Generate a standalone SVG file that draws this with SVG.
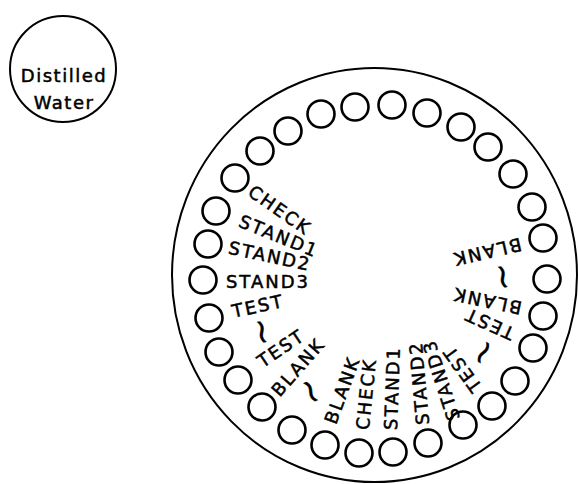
<svg xmlns="http://www.w3.org/2000/svg" width="578" height="484" viewBox="0 0 578 484">
<style>
.o{fill:none;stroke:#000;stroke-width:2}
.w{fill:none;stroke:#000;stroke-width:2.6}
.t{font-family:"DejaVu Sans","Liberation Sans",sans-serif;font-size:18px;letter-spacing:2px;fill:#000;stroke:#000;stroke-width:0.5;text-anchor:middle}
.d{letter-spacing:1.5px}
.t.s{font-size:34px;letter-spacing:0;stroke-width:0.3}
</style>
<rect width="578" height="484" fill="#fff"/>
<g id="distilled-water">
<circle class="o" cx="63" cy="69" r="53"/>
<text class="t d" x="64" y="82">Distilled</text>
<text class="t d" x="64" y="109">Water</text>
</g>
<g id="connectors"></g>
<g id="tray">
<ellipse class="o" cx="374.5" cy="275" rx="202.5" ry="207"/>
</g>
<g id="wells">
<circle class="w" cx="203" cy="280" r="13.5"/>
<circle class="w" cx="208" cy="244" r="13.5"/>
<circle class="w" cx="216" cy="211" r="13.5"/>
<circle class="w" cx="235" cy="178" r="13.5"/>
<circle class="w" cx="260" cy="151" r="13.5"/>
<circle class="w" cx="288" cy="131" r="13.5"/>
<circle class="w" cx="321" cy="114" r="13.5"/>
<circle class="w" cx="355" cy="107" r="13.5"/>
<circle class="w" cx="392" cy="105" r="13.5"/>
<circle class="w" cx="427" cy="113" r="13.5"/>
<circle class="w" cx="461" cy="127" r="13.5"/>
<circle class="w" cx="488" cy="147" r="13.5"/>
<circle class="w" cx="513" cy="174" r="13.5"/>
<circle class="w" cx="532" cy="207" r="13.5"/>
<circle class="w" cx="543" cy="238" r="13.5"/>
<circle class="w" cx="547" cy="279" r="13.5"/>
<circle class="w" cx="543" cy="316" r="13.5"/>
<circle class="w" cx="533" cy="348" r="13.5"/>
<circle class="w" cx="515" cy="381" r="13.5"/>
<circle class="w" cx="492" cy="406" r="13.5"/>
<circle class="w" cx="463" cy="425" r="13.5"/>
<circle class="w" cx="428" cy="443" r="13.5"/>
<circle class="w" cx="393" cy="452" r="13.5"/>
<circle class="w" cx="359" cy="453" r="13.5"/>
<circle class="w" cx="325" cy="445" r="13.5"/>
<circle class="w" cx="292" cy="430" r="13.5"/>
<circle class="w" cx="262" cy="407" r="13.5"/>
<circle class="w" cx="238" cy="380" r="13.5"/>
<circle class="w" cx="219" cy="352" r="13.5"/>
<circle class="w" cx="209" cy="318" r="13.5"/>
</g>
<g id="labels">
<text class="t" transform="translate(280,210) rotate(35)" y="6.5">CHECK</text>
<text class="t" transform="translate(279,236) rotate(22)" y="6.5">STAND1</text>
<text class="t" transform="translate(270,256) rotate(12)" y="6.5">STAND2</text>
<text class="t" transform="translate(268,281) rotate(0)" y="6.5">STAND3</text>
<text class="t" transform="translate(258,306) rotate(-12)" y="6.5">TEST</text>
<text class="t s" transform="translate(261,332) rotate(80)" y="10">~</text>
<text class="t" transform="translate(281,348) rotate(-34)" y="6.5">TEST</text>
<text class="t" transform="translate(298,367) rotate(-49)" y="6.5">BLANK</text>
<text class="t s" transform="translate(310,392) rotate(65)" y="10">~</text>
<text class="t" transform="translate(342,390) rotate(-70)" y="6.5">BLANK</text>
<text class="t" transform="translate(366,394) rotate(-84)" y="6.5">CHECK</text>
<text class="t" transform="translate(392,388) rotate(-88)" y="6.5">STAND1</text>
<text class="t" transform="translate(419,383) rotate(-95)" y="6.5">STAND2</text>
<text class="t" transform="translate(441,380) rotate(-108)" y="6.5">STAND3</text>
<text class="t" transform="translate(462,369) rotate(-126)" y="6.5">TEST</text>
<text class="t s" transform="translate(484,353) rotate(-60)" y="10">~</text>
<text class="t" transform="translate(489,324) rotate(204)" y="6.5">TEST</text>
<text class="t" transform="translate(487,301) rotate(192)" y="6.5">BLANK</text>
<text class="t s" transform="translate(502,277) rotate(80)" y="10">~</text>
<text class="t" transform="translate(487,252) rotate(167)" y="6.5">BLANK</text>
</g>
</svg>
